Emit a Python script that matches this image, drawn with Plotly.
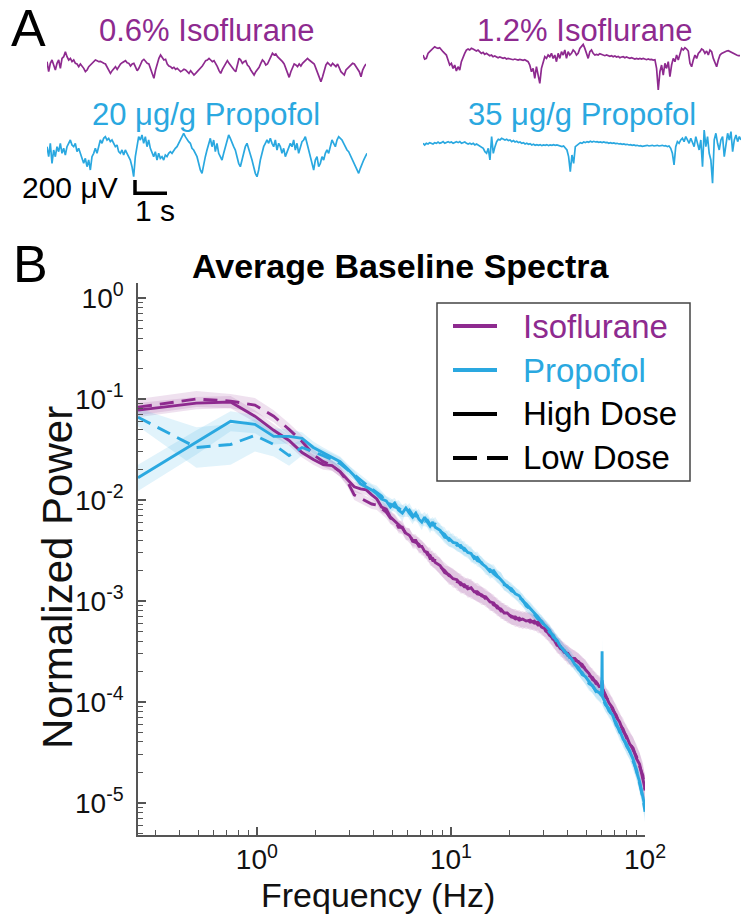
import numpy as np
import plotly.graph_objects as go

W, H = 741, 915
PURPLE = "#8E2A8F"
BLUE = "#2AA8E0"
PURPLE_FILL = "rgba(142,42,143,0.14)"
BLUE_FILL = "rgba(42,168,224,0.14)"
AXC = "#555555"
TXT = "#111111"
FONT = "Liberation Sans, Arial, Helvetica, sans-serif"

# ---------------- Panel A: example EEG traces (µV), 10 s each ----------------
trace_duration_s = 10.0
iso_low_uV = [50,-100,25,75,0,-75,25,75,-50,100,125,200,125,75,100,50,75,25,15,-25,15,-15,-50,-100,-75,-25,0,35,65,75,65,50,55,35,25,15,-25,-75,-125,-85,-50,-25,-65,-15,15,35,50,65,35,25,-15,15,25,-25,-85,-50,0,65,85,50,25,15,-50,-125,-200,-75,25,100,150,100,75,85,15,-15,-25,-50,-35,-65,-50,-75,-100,-85,-65,-75,-100,-125,-85,-115,-150,-125,-100,-75,-50,-15,25,65,75,100,75,50,65,25,-25,-85,-125,-65,-25,25,65,25,-15,-50,-75,-100,0,100,75,25,50,65,0,-25,-75,-125,-150,-100,-75,-35,25,75,50,0,15,65,100,175,150,165,125,100,85,50,15,-50,-125,-185,-100,-25,15,0,-25,15,-15,25,50,75,100,75,50,25,15,-50,-125,-200,-250,-175,-75,0,35,15,-15,25,0,-25,15,-50,-100,-125,-150,-75,-50,-25,0,25,15,-25,-75,-100,-175,-75,-25,15]
iso_high_uV = [25,-35,-25,50,75,100,125,150,135,125,135,100,75,50,25,-50,-125,-100,-175,-125,-215,-150,-200,-75,-25,50,100,115,100,125,115,100,85,100,75,50,65,35,50,25,15,25,0,10,0,-15,-5,-15,-25,-15,-35,-25,-35,-35,-45,-35,-45,-50,-40,-50,-55,-45,-55,-75,-125,-225,-175,-325,-150,-275,-400,-175,-75,0,-25,25,0,50,-25,25,-75,50,-25,75,25,100,-25,75,25,50,100,75,25,50,125,150,185,125,50,-25,75,100,50,25,35,25,45,35,25,15,25,15,5,15,0,10,-5,5,-15,-5,0,-15,-5,-15,-25,-15,-25,-35,-25,-35,-25,-35,-25,-35,-45,-35,-45,-40,-50,-45,-175,-500,-225,-125,-275,-100,-175,-75,-300,-125,-25,-75,25,-50,50,125,100,135,115,85,-100,-150,-50,25,-25,50,75,115,100,50,85,25,100,75,-25,-75,-150,-50,25,50,65,75,85,90,75,65,50,35,25,15,15]
prop_low_uV = [50,-100,100,-200,0,-100,50,-25,100,-50,25,-75,50,100,150,75,50,100,-25,25,-50,-100,-200,-125,-250,-150,-300,-100,-50,25,-50,50,150,100,175,200,150,175,125,150,100,50,75,-25,-50,0,-75,0,-50,-100,-150,-250,-400,-100,50,200,150,225,100,200,50,150,25,-50,-100,-25,-150,-50,-125,-100,-150,-75,-100,-50,-25,-50,0,25,50,100,150,200,250,200,150,125,100,25,0,-50,-100,-200,-300,-350,-200,-100,0,100,175,50,150,-25,100,-50,-100,-150,-50,50,150,225,175,100,50,0,-100,-200,-250,-150,-25,50,100,25,-50,-150,-250,-350,-400,-300,-150,-50,50,100,150,100,175,100,50,150,0,100,50,-50,25,-100,-25,50,100,50,150,0,100,-50,50,125,150,200,100,0,-100,-200,-300,-150,-100,-250,-200,-100,-150,-50,0,-50,50,150,100,50,150,200,175,150,100,50,0,-25,-75,-125,-200,-250,-300,-350,-275,-200,-150,-100,-50]
prop_high_uV = [0,-25,0,-10,10,0,-10,10,0,20,0,10,25,0,15,25,10,20,0,10,25,10,25,0,10,20,0,-10,0,-15,0,-25,-10,-25,-40,-50,-75,-125,-150,-75,-250,100,-150,-50,25,60,50,75,60,50,60,40,50,25,40,20,30,10,20,0,10,-10,0,-15,-5,-25,-15,-30,-20,-30,-20,-35,-25,-30,-20,-35,-25,-30,-20,-30,-25,-35,-40,-50,-40,-75,-100,-200,-425,-175,-300,-50,-25,0,10,0,20,10,25,15,30,20,30,20,25,15,20,10,20,10,15,0,10,0,5,-5,0,-10,-5,-15,-10,-20,-15,-25,-20,-30,-25,-35,-30,-40,-35,-45,-40,-35,-30,-40,-35,-30,-40,-35,-30,-40,-35,-30,-40,-35,-50,-40,-75,-150,-325,-50,25,0,50,75,25,100,50,0,75,25,-50,100,0,-100,50,-350,200,-50,100,-150,-250,-600,50,150,0,-100,50,100,-200,-50,150,50,175,-125,50,125,25,100,50]
trace_titles = ["0.6% Isoflurane", "1.2% Isoflurane", "20 μg/g Propofol", "35 μg/g Propofol"]
scale_bar_uV = 200
scale_bar_s = 1.0

# ---------------- Panel B: average baseline spectra ----------------
freq_hz = [0.244,0.488,0.732,0.977,1.221,1.465,1.709,1.953,2.197,2.441,2.686,2.930,3.174,3.418,3.662,3.906,
           4.15,4.39,4.64,4.88,5.13,5.37,5.62,5.86,6.10,6.35,6.59,6.84,7.08,7.32,7.57,7.81,8.06,8.30,
           8.79,9.28,9.77,10.25,10.74,11.23,11.72,12.21,12.70,13.18,13.67,
           14.4,15.1,15.9,16.6,17.3,18.1,18.8,19.5,
           20.5,21.5,22.5,23.4,24.4,
           25.6,26.9,28.1,29.3,
           30.8,32.2,33.7,35.2,36.6,
           38.3,40.0,41.7,43.5,45.4,47.4,49.3,
           51.5,53.7,55.9,58.1,
           59.8,60.1,60.3,
           62.5,65.2,68.1,71.0,74.0,77.1,80.3,83.5,86.9,90.3,93.8,97.4,100.0]

# log10 of normalized power
iso_low_log = [-1.08,-1.00,-1.02,-1.06,-1.17,-1.30,-1.42,-1.55,-1.62,-1.66,-1.72,-1.82,-1.95,-1.98,-2.01,-2.04,
               -2.05,-2.09,-2.12,-2.18,-2.20,-2.27,-2.27,-2.34,-2.34,-2.41,-2.42,-2.44,-2.48,-2.49,-2.54,-2.55,-2.60,-2.60,
               -2.66,-2.70,-2.75,-2.76,-2.81,-2.82,-2.86,-2.86,-2.89,-2.90,-2.93,
               -2.94,-2.98,-3.00,-3.04,-3.05,-3.10,-3.10,-3.14,
               -3.15,-3.18,-3.17,-3.20,-3.18,
               -3.21,-3.20,-3.24,-3.24,
               -3.30,-3.32,-3.39,-3.42,-3.47,
               -3.49,-3.54,-3.55,-3.59,-3.60,-3.65,-3.67,
               -3.74,-3.76,-3.82,-3.83,
               -3.86,-3.84,-3.86,
               -3.95,-3.99,-4.08,-4.13,-4.22,-4.27,-4.36,-4.40,-4.48,-4.54,-4.64,-4.73,-4.88]
iso_high_log = [-1.11,-1.04,-1.03,-1.17,-1.31,-1.41,-1.53,-1.60,-1.65,-1.66,-1.72,-1.80,-1.87,-1.89,-1.90,-1.95,
                -1.99,-2.07,-2.09,-2.17,-2.21,-2.25,-2.28,-2.33,-2.35,-2.40,-2.40,-2.46,-2.46,-2.51,-2.52,-2.58,-2.58,-2.62,
                -2.65,-2.72,-2.74,-2.78,-2.79,-2.84,-2.84,-2.88,-2.87,-2.91,-2.91,
                -2.95,-2.96,-3.01,-3.02,-3.07,-3.08,-3.12,-3.12,
                -3.16,-3.16,-3.19,-3.18,-3.20,
                -3.19,-3.22,-3.21,-3.26,
                -3.28,-3.34,-3.37,-3.44,-3.45,
                -3.51,-3.52,-3.57,-3.57,-3.61,-3.63,-3.68,
                -3.72,-3.78,-3.80,-3.85,
                -3.85,-3.80,-3.87,
                -3.93,-4.01,-4.06,-4.15,-4.20,-4.29,-4.34,-4.42,-4.46,-4.56,-4.62,-4.75,-4.86]
prop_low_log = [-1.18,-1.48,-1.45,-1.36,-1.45,-1.56,-1.48,-1.52,-1.56,-1.60,-1.64,-1.70,-1.75,-1.80,-1.85,-1.89,
                -1.92,-1.96,-2.03,-2.04,-2.07,-2.08,-2.11,-2.12,-2.10,-2.15,-2.16,-2.16,-2.20,-2.21,-2.20,-2.24,-2.25,-2.24,
                -2.31,-2.34,-2.40,-2.40,-2.45,-2.45,-2.50,-2.50,-2.55,-2.56,-2.60,
                -2.62,-2.68,-2.69,-2.73,-2.76,-2.78,-2.84,-2.85,
                -2.90,-2.92,-2.97,-2.99,-3.05,
                -3.08,-3.13,-3.18,-3.20,
                -3.26,-3.31,-3.34,-3.41,-3.44,
                -3.50,-3.53,-3.59,-3.62,-3.68,-3.71,-3.76,
                -3.82,-3.84,-3.90,-3.93,
                -3.95,-3.75,-3.96,
                -4.03,-4.07,-4.15,-4.21,-4.30,-4.35,-4.44,-4.49,-4.59,-4.67,-4.81,-4.95,-5.09]
prop_high_log = [-1.78,-1.43,-1.22,-1.25,-1.37,-1.37,-1.39,-1.48,-1.53,-1.58,-1.62,-1.69,-1.76,-1.84,-1.87,-1.90,
                 -1.94,-1.99,-2.01,-2.07,-2.03,-2.10,-2.13,-2.08,-2.13,-2.17,-2.13,-2.19,-2.22,-2.17,-2.22,-2.26,-2.22,-2.27,
                 -2.30,-2.37,-2.38,-2.42,-2.43,-2.47,-2.48,-2.52,-2.53,-2.58,-2.57,
                 -2.63,-2.66,-2.71,-2.70,-2.75,-2.79,-2.83,-2.86,
                 -2.88,-2.93,-2.95,-3.00,-3.03,
                 -3.07,-3.12,-3.16,-3.21,
                 -3.25,-3.29,-3.36,-3.39,-3.45,
                 -3.49,-3.54,-3.57,-3.63,-3.66,-3.73,-3.75,
                 -3.80,-3.85,-3.89,-3.91,
                 -3.94,-3.50,-3.95,
                 -4.01,-4.09,-4.13,-4.23,-4.28,-4.37,-4.42,-4.50,-4.57,-4.69,-4.79,-4.94,-5.04]

# half-width of the shaded error band (log10 units)
iso_low_band = [0.08,0.08,0.07,0.07,0.06,0.06,0.06,0.05,0.05,0.05,0.05,0.05,0.05,0.05,0.05,0.05,
                0.05,0.05,0.06,0.06,0.05,0.06,0.07,0.06,0.06,0.07,0.06,0.07,0.07,0.06,0.07,0.08,0.07,0.08,
                0.08,0.08,0.09,0.08,0.09,0.09,0.08,0.09,0.09,0.09,0.08,
                0.08,0.08,0.08,0.08,0.08,0.08,0.08,0.08,
                0.08,0.08,0.08,0.08,0.08,
                0.08,0.08,0.08,0.08,
                0.08,0.08,0.08,0.08,0.08,
                0.08,0.09,0.08,0.09,0.08,0.09,0.09,
                0.09,0.09,0.09,0.09,
                0.09,0.09,0.09,
                0.09,0.10,0.10,0.10,0.10,0.11,0.11,0.11,0.12,0.12,0.13,0.13,0.14]
iso_high_band = [0.07,0.06,0.06,0.06,0.06,0.05,0.05,0.05,0.05,0.05,0.05,0.05,0.05,0.05,0.05,0.05,
                 0.05,0.06,0.05,0.06,0.07,0.06,0.05,0.06,0.07,0.06,0.06,0.07,0.06,0.07,0.06,0.07,0.08,0.07,
                 0.08,0.07,0.08,0.09,0.08,0.09,0.08,0.09,0.09,0.08,0.09,
                 0.09,0.08,0.09,0.08,0.08,0.08,0.08,0.08,
                 0.08,0.08,0.08,0.08,0.08,
                 0.08,0.08,0.08,0.08,
                 0.08,0.08,0.08,0.08,0.08,
                 0.08,0.08,0.09,0.08,0.09,0.08,0.09,
                 0.09,0.09,0.09,0.09,
                 0.09,0.09,0.09,
                 0.09,0.09,0.10,0.10,0.10,0.10,0.11,0.11,0.11,0.12,0.12,0.13,0.14]
prop_low_band = [0.09,0.20,0.20,0.16,0.12,0.10,0.08,0.07,0.06,0.06,0.06,0.05,0.05,0.05,0.05,0.05,
                 0.06,0.05,0.07,0.06,0.05,0.08,0.06,0.05,0.07,0.06,0.05,0.07,0.06,0.05,0.07,0.06,0.06,0.07,
                 0.06,0.07,0.06,0.07,0.06,0.07,0.06,0.06,0.07,0.06,0.06,
                 0.06,0.06,0.06,0.06,0.06,0.06,0.06,0.06,
                 0.06,0.06,0.06,0.06,0.06,
                 0.06,0.06,0.06,0.06,
                 0.06,0.06,0.06,0.06,0.06,
                 0.06,0.07,0.06,0.07,0.06,0.07,0.07,
                 0.07,0.07,0.07,0.07,
                 0.08,0.10,0.08,
                 0.07,0.07,0.07,0.08,0.08,0.08,0.08,0.08,0.09,0.09,0.09,0.10,0.10]
prop_high_band = [0.13,0.12,0.10,0.09,0.08,0.07,0.06,0.06,0.05,0.05,0.05,0.05,0.05,0.05,0.05,0.05,
                  0.05,0.06,0.05,0.07,0.05,0.06,0.08,0.05,0.06,0.07,0.05,0.06,0.08,0.05,0.06,0.07,0.05,0.06,
                  0.07,0.06,0.08,0.06,0.07,0.06,0.07,0.06,0.07,0.06,0.06,
                  0.06,0.06,0.07,0.06,0.06,0.07,0.06,0.06,
                  0.06,0.06,0.06,0.06,0.06,
                  0.06,0.06,0.06,0.06,
                  0.06,0.06,0.06,0.06,0.06,
                  0.06,0.06,0.07,0.06,0.07,0.06,0.07,
                  0.07,0.07,0.07,0.08,
                  0.08,0.15,0.08,
                  0.07,0.07,0.07,0.07,0.07,0.08,0.08,0.08,0.08,0.09,0.09,0.10,0.10]

legend_labels = ["Isoflurane", "Propofol", "High Dose", "Low Dose"]
x_ticks = [1, 10, 100]
y_ticks = [1e-5, 1e-4, 1e-3, 1e-2, 1e-1, 1e0]

for arr in (iso_low_log, iso_high_log, prop_low_log, prop_high_log,
            iso_low_band, iso_high_band, prop_low_band, prop_high_band):
    assert len(arr) == len(freq_hz), len(arr)


def fx(px):
    return min(px / W, 1.0)


def fy(py):
    return 1 - py / H


fig = go.Figure()

# ---- spectra: bands then lines ----
series = [
    (iso_low_log, iso_low_band, PURPLE, PURPLE_FILL, "14px,8px"),
    (iso_high_log, iso_high_band, PURPLE, PURPLE_FILL, "solid"),
    (prop_low_log, prop_low_band, BLUE, BLUE_FILL, "14px,8px"),
    (prop_high_log, prop_high_band, BLUE, BLUE_FILL, "solid"),
]
for lg, bd, col, fill, dash in series:
    lg_a = np.array(lg)
    bd_a = np.array(bd)
    up = 10 ** (lg_a + bd_a)
    lo = 10 ** (lg_a - bd_a)
    fig.add_trace(go.Scatter(
        x=freq_hz + freq_hz[::-1], y=list(up) + list(lo[::-1]),
        fill="toself", fillcolor=fill, mode="lines", line=dict(width=0),
        hoverinfo="skip", showlegend=False, xaxis="x", yaxis="y"))
for lg, bd, col, fill, dash in series:
    fig.add_trace(go.Scatter(
        x=freq_hz, y=list(10 ** np.array(lg)), mode="lines",
        line=dict(color=col, width=2.9, dash=dash),
        showlegend=False, xaxis="x", yaxis="y"))

# ---- EEG traces ----
trace_specs = [
    (iso_low_uV, PURPLE, 2),
    (iso_high_uV, PURPLE, 3),
    (prop_low_uV, BLUE, 4),
    (prop_high_uV, BLUE, 5),
]
for vals, col, k in trace_specs:
    t = np.linspace(0, trace_duration_s, len(vals))
    fig.add_trace(go.Scatter(
        x=t, y=vals, mode="lines", line=dict(color=col, width=1.7),
        showlegend=False, xaxis=f"x{k}", yaxis=f"y{k}", hoverinfo="skip"))

# scale bar (drawn in the 20 µg/g trace axes)
sb_t0, sb_v0 = 2.75, -650
fig.add_trace(go.Scatter(
    x=[sb_t0, sb_t0, sb_t0 + scale_bar_s],
    y=[sb_v0 + scale_bar_uV, sb_v0, sb_v0],
    mode="lines", line=dict(color="black", width=3.5),
    showlegend=False, xaxis="x4", yaxis="y4", hoverinfo="skip"))

# ---- layout ----
axis_common = dict(showline=True, linecolor=AXC, linewidth=1.5, ticks="inside",
                   tickcolor=AXC, tickwidth=1.5, ticklen=8, showgrid=False, zeroline=False,
                   automargin=False)
x_minor = [v * m for v in (0.1, 1, 10) for m in range(2, 10) if 0.244 <= v * m <= 100]
y_minor = [10.0 ** e * m for e in range(-6, 0) for m in range(2, 10)]

layout = dict(
    width=W, height=H, autosize=False, margin=dict(l=0, r=0, t=0, b=0, pad=0, autoexpand=False),
    paper_bgcolor="white", plot_bgcolor="rgba(0,0,0,0)",
    font=dict(family=FONT, color=TXT),
    showlegend=False,
    xaxis=dict(type="log", range=[np.log10(0.244), 2], domain=[fx(138), fx(645)],
               tickvals=x_ticks, ticktext=["10<sup>0</sup>", "10<sup>1</sup>", "10<sup>2</sup>"],
               tickfont=dict(family=FONT, size=28, color=TXT),
               minor=dict(tickvals=x_minor, ticks="inside", ticklen=5, tickcolor=AXC, tickwidth=1.2),
               ticklabelstandoff=-1, anchor="y", **axis_common),
    yaxis=dict(type="log", range=[-5.32, 0.15], domain=[fy(835), fy(283)],
               tickvals=y_ticks,
               ticktext=["10<sup>-5</sup>", "10<sup>-4</sup>", "10<sup>-3</sup>", "10<sup>-2</sup>",
                         "10<sup>-1</sup>", "10<sup>0</sup>"],
               tickfont=dict(family=FONT, size=28, color=TXT),
               minor=dict(tickvals=y_minor, ticks="inside", ticklen=5, tickcolor=AXC, tickwidth=1.2),
               ticklabelstandoff=7, anchor="x", **axis_common),
)

trace_domains = {
    2: ((47, 366), 65.0),
    3: ((423, 740), 56.7),
    4: ((47, 367), 150.0),
    5: ((423, 741), 143.3),
}
for k, ((x0, x1), yc) in trace_domains.items():
    layout[f"xaxis{k}"] = dict(domain=[fx(x0), fx(x1)], range=[0, trace_duration_s],
                               visible=False, automargin=False, anchor=f"y{k}")
    layout[f"yaxis{k}"] = dict(domain=[fy(yc + 50), fy(yc - 50)], range=[-750, 750],
                               visible=False, automargin=False, anchor=f"x{k}")

fig.update_layout(**layout)

ann = []


def add_text(text, x, y, size, color=TXT, xanchor="center", yanchor="middle", angle=0):
    ann.append(dict(text=text, x=fx(x), y=fy(y), xref="paper", yref="paper",
                    showarrow=False, xanchor=xanchor, yanchor=yanchor, textangle=angle,
                    font=dict(family=FONT, size=size, color=color)))


add_text("A", 28, 28, 52, "black")
add_text("B", 30, 264, 52, "black")
add_text(trace_titles[0], 206, 31, 31, PURPLE)
add_text(trace_titles[1], 584, 31, 31, PURPLE)
add_text(trace_titles[2], 206, 114, 31, BLUE)
add_text(trace_titles[3], 582, 114, 31, BLUE)
add_text(f"{scale_bar_uV} μV", 120, 188, 30, "black", xanchor="right")
add_text(f"{scale_bar_s:g} s", 133, 211, 30, "black", xanchor="left")
add_text("<b>Average Baseline Spectra</b>", 400, 266, 34, "black")
add_text("Frequency (Hz)", 378, 895, 34)
add_text("Normalized Power", 57, 578, 42, angle=-90)

# legend (manual)
shapes = [dict(type="rect", xref="paper", yref="paper", x0=fx(437), x1=fx(690), y0=fy(481), y1=fy(303),
               line=dict(color="#444444", width=1.5), fillcolor="white", layer="below")]
leg_rows = [(326, PURPLE, "solid", legend_labels[0], PURPLE),
            (370, BLUE, "solid", legend_labels[1], BLUE),
            (414, "black", "solid", legend_labels[2], "black"),
            (458, "black", "24px,10px", legend_labels[3], "black")]
for yy, lc, dash, label, tc in leg_rows:
    x_end = 497 if dash == "solid" else 508
    shapes.append(dict(type="line", xref="paper", yref="paper", x0=fx(453), x1=fx(x_end),
                       y0=fy(yy), y1=fy(yy), line=dict(color=lc, width=4, dash=dash)))
    add_text(label, 521, yy, 33, tc, xanchor="left")

fig.update_layout(annotations=ann, shapes=shapes)
fig.write_html("out.html", config={"responsive": False, "displayModeBar": False})
